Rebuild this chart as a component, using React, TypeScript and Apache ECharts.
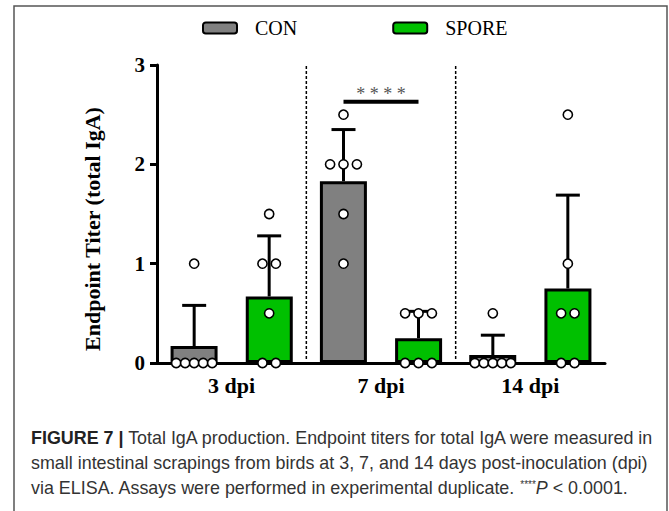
import React, { useEffect, useRef } from 'react';
import * as echarts from 'echarts';

// ---- data ----
const categories = ['3 dpi', '7 dpi', '14 dpi'];
const seriesNames = ['CON', 'SPORE'];
const conMean = [0.17, 1.83, 0.08];
const conSD = [0.41, 0.52, 0.2];
const sporeMean = [0.67, 0.25, 0.75];
const sporeSD = [0.61, 0.27, 0.94];
const conPoints = [
  [1, 0, 0, 0, 0, 0],
  [2.5, 2, 2, 2, 1.5, 1],
  [0.5, 0, 0, 0, 0, 0],
];
const sporePoints = [
  [1.5, 1, 1, 0.5, 0, 0],
  [0.5, 0.5, 0.5, 0, 0, 0],
  [2.5, 1, 0.5, 0.5, 0, 0],
];
const yMin = 0;
const yMax = 3;
const yInterval = 1;
const sigCategory = 1;
const sigLevel = 2.63;
const sigLabel = '* * * *';
const yAxisTitle = 'Endpoint Titer (total IgA)';
const captionLines = [
  '{b|FIGURE 7 |} Total IgA production. Endpoint titers for total IgA were measured in',
  'small intestinal scrapings from birds at 3, 7, and 14 days post-inoculation (dpi)',
  'via ELISA. Assays were performed in experimental duplicate. {s|****}{i|P} < 0.0001.',
];

// ---- styling ----
const SERIF = '"Liberation Serif", "Times New Roman", serif';
const SANS = '"Liberation Sans", Arial, sans-serif';
const GROUP_OFFSET = 37.5;
const colors = ['#808080', '#00c000'];
const CAP_FS = 17.9;

function buildPointRows(points: number[][], group: number) {
  const rows: number[][] = [];
  points.forEach((vals, cat) => {
    const counts: Record<string, number> = {};
    vals.forEach((v) => (counts[v] = (counts[v] || 0) + 1));
    const seen: Record<string, number> = {};
    vals.forEach((v) => {
      const n = counts[v];
      const k = seen[v] || 0;
      seen[v] = k + 1;
      const sp = n >= 4 ? 9 : 13.4;
      rows.push([cat, v, group, (k - (n - 1) / 2) * sp]);
    });
  });
  return rows;
}

export default function App() {
  const ref = useRef<HTMLDivElement>(null);
  useEffect(() => {
    document.body.style.margin = '0';
    const chart = echarts.init(ref.current!, undefined, { renderer: 'svg' });

    const errRows = [
      ...conMean.map((m, i) => [i, m, conSD[i], 0]),
      ...sporeMean.map((m, i) => [i, m, sporeSD[i], 1]),
    ];
    const pointRows = [...buildPointRows(conPoints, 0), ...buildPointRows(sporePoints, 1)];

    const option: any = {
      animation: false,
      grid: { left: 157, right: 64, top: 65, bottom: 148 },
      legend: {
        left: 197,
        top: 13,
        itemWidth: 34,
        itemHeight: 11,
        itemGap: 95,
        icon: 'roundRect',
        data: seriesNames,
        textStyle: { fontFamily: SERIF, fontSize: 20, color: '#000', padding: [0, 0, 0, 13] },
      },
      xAxis: {
        type: 'category',
        data: categories,
        boundaryGap: true,
        axisLine: { lineStyle: { color: '#000', width: 3 } },
        axisTick: { show: false },
        axisLabel: { fontFamily: SERIF, fontWeight: 'bold', fontSize: 22, color: '#000', margin: 11 },
        splitLine: { show: false },
      },
      yAxis: {
        type: 'value',
        min: yMin,
        max: yMax,
        interval: yInterval,
        axisLine: { show: true, lineStyle: { color: '#000', width: 3 } },
        axisTick: { show: true, length: 7, lineStyle: { color: '#000', width: 3 } },
        axisLabel: { fontFamily: SERIF, fontWeight: 'bold', fontSize: 21, color: '#000', margin: 12 },
        splitLine: { show: false },
      },
      graphic: [
        {
          type: 'rect',
          shape: { x: 14, y: 6, width: 653, height: 530 },
          style: { fill: 'none', stroke: '#555', lineWidth: 1.5 },
          silent: true,
        },
        {
          type: 'text',
          x: 92,
          y: 229,
          rotation: Math.PI / 2,
          style: {
            text: yAxisTitle,
            fontFamily: SERIF,
            fontWeight: 'bold',
            fontSize: 22,
            fill: '#000',
            align: 'center',
            verticalAlign: 'middle',
          },
        },
        ...captionLines.map((t, i) => ({
          type: 'text',
          x: 31,
          y: 438 + i * 25,
          style: {
            text: t,
            fontFamily: SANS,
            fontSize: CAP_FS,
            fill: '#333',
            align: 'left',
            verticalAlign: 'middle',
            rich: {
              b: { fontFamily: SANS, fontSize: CAP_FS, fontWeight: 'bold', fill: '#222' },
              s: { fontFamily: SANS, fontSize: 10, fill: '#333', verticalAlign: 'top', padding: [0, 0, 8, 0] },
              i: { fontFamily: SANS, fontSize: CAP_FS, fontStyle: 'italic', fill: '#333' },
            },
          },
        })),
      ],
      series: [
        ...[conMean, sporeMean].map((d, gi) => ({
          name: seriesNames[gi],
          type: 'bar',
          data: d,
          barWidth: 47,
          barGap: '60%',
          z: 2,
          itemStyle: { color: colors[gi], borderColor: '#000', borderWidth: 3 },
        })),
        {
          type: 'custom',
          name: 'separators',
          data: [[1], [2]],
          encode: { x: 0 },
          z: 1,
          silent: true,
          renderItem: (params: any, api: any) => {
            const idx = api.value(0);
            const top = api.coord([idx, yMax]);
            const bot = api.coord([idx, yMin]);
            const w = api.size([1, 0])[0];
            const x = top[0] - w / 2;
            return {
              type: 'line',
              shape: { x1: x, y1: top[1] + 1, x2: x, y2: bot[1] - 3 },
              style: { stroke: '#000', lineWidth: 1.5, lineDash: [3, 2] },
            };
          },
        },
        {
          type: 'custom',
          name: 'errors',
          data: errRows,
          encode: { x: 0, y: 1 },
          z: 3,
          silent: true,
          renderItem: (params: any, api: any) => {
            const cat = api.value(0);
            const m = api.value(1);
            const sd = api.value(2);
            const g = api.value(3);
            const p0 = api.coord([cat, m]);
            const p1 = api.coord([cat, m + sd]);
            const x = p0[0] + (g === 0 ? -GROUP_OFFSET : GROUP_OFFSET);
            return {
              type: 'group',
              children: [
                { type: 'line', shape: { x1: x, y1: p0[1], x2: x, y2: p1[1] }, style: { stroke: '#000', lineWidth: 3 } },
                { type: 'line', shape: { x1: x - 12, y1: p1[1], x2: x + 12, y2: p1[1] }, style: { stroke: '#000', lineWidth: 3 } },
              ],
            };
          },
        },
        {
          type: 'custom',
          name: 'points',
          data: pointRows,
          encode: { x: 0, y: 1 },
          z: 4,
          silent: true,
          renderItem: (params: any, api: any) => {
            const c = api.coord([api.value(0), api.value(1)]);
            const g = api.value(2);
            const cx = c[0] + (g === 0 ? -GROUP_OFFSET : GROUP_OFFSET) + api.value(3);
            return {
              type: 'circle',
              shape: { cx, cy: c[1], r: 4.6 },
              style: { fill: '#fff', stroke: '#000', lineWidth: 1.6 },
            };
          },
        },
        {
          type: 'custom',
          name: 'significance',
          data: [[sigCategory, sigLevel]],
          encode: { x: 0, y: 1 },
          z: 4,
          silent: true,
          renderItem: (params: any, api: any) => {
            const c = api.coord([api.value(0), api.value(1)]);
            return {
              type: 'group',
              children: [
                {
                  type: 'line',
                  shape: { x1: c[0] - GROUP_OFFSET, y1: c[1], x2: c[0] + GROUP_OFFSET, y2: c[1] },
                  style: { stroke: '#000', lineWidth: 4 },
                },
                {
                  type: 'text',
                  x: c[0],
                  y: c[1] - 7.5,
                  style: {
                    text: sigLabel,
                    fontFamily: SERIF,
                    fontSize: 18,
                    fill: '#555',
                    align: 'center',
                    verticalAlign: 'middle',
                  },
                },
              ],
            };
          },
        },
      ],
    };
    chart.setOption(option);
    return () => chart.dispose();
  }, []);
  return <div ref={ref} style={{ width: 669, height: 511 }} />;
}
